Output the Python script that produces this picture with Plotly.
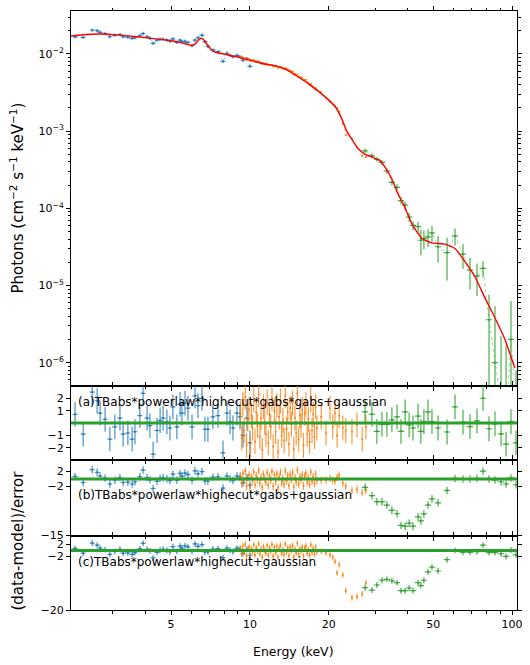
import plotly.graph_objects as go
from plotly.subplots import make_subplots

# --- model curve (red) ---
model_energy = [2.0, 2.3, 2.7, 3.2, 3.7, 4.3, 5.0, 5.5, 5.8, 6.0, 6.1, 6.2, 6.3, 6.4, 6.5,
                6.6, 6.7, 6.85, 7.0, 7.2, 7.4, 7.7, 8.0, 9.0, 10.0, 11.4, 12.3, 13.6, 15.2,
                17.25, 19.3, 21.1, 22.4, 23.4, 24.5, 25.8, 27.5, 29.2, 31.4, 32.8, 34.8,
                36.7, 38.4, 41.5, 45.3, 49.5, 55.5, 60.6, 66.2, 72.2, 78.9, 86.1, 94.0,
                100.9, 102.6]
model_flux = [0.0168, 0.0177, 0.0181, 0.0175, 0.0167, 0.0158, 0.0148, 0.0139, 0.0132,
              0.0130, 0.0132, 0.0136, 0.0145, 0.0154, 0.0159, 0.0157, 0.0149, 0.0134,
              0.0121, 0.0110, 0.0105, 0.0102, 0.0099, 0.0091, 0.0083, 0.0074, 0.0071,
              0.0064, 0.0051, 0.0038, 0.0028, 0.0021, 0.00145, 0.0010, 0.00078, 0.0006,
              0.0005, 0.000464, 0.000412, 0.000339, 0.00024, 0.000154, 0.000115, 6.3e-5,
              4.06e-5, 3.57e-5, 3.43e-5, 3.02e-5, 2.03e-5, 1.3e-5, 6.86e-6, 3.8e-6,
              2.0e-6, 1.0e-6, 8.6e-7]

# --- blue instrument ---
blue_energy = [2.15, 2.31, 2.50, 2.61, 2.68, 2.80, 2.92, 3.05, 3.19, 3.28, 3.42, 3.55,
               3.64, 3.80, 3.91, 4.05, 4.15, 4.27, 4.42, 4.54, 4.66, 4.82, 4.95, 5.08,
               5.26, 5.41, 5.50, 5.65, 5.80, 6.01, 6.17, 6.33, 6.56, 6.73, 6.91, 7.22,
               7.55, 7.89, 8.17, 8.39, 8.61, 8.92, 9.16, 9.40, 9.74, 10.0]
blue_flux = [0.01667, 0.0164, 0.0204, 0.0200, 0.0190, 0.0184, 0.0167, 0.0175, 0.0178,
             0.0167, 0.0165, 0.0159, 0.0162, 0.0172, 0.0184, 0.0167, 0.0159, 0.0137,
             0.0151, 0.0155, 0.0155, 0.0151, 0.0146, 0.0157, 0.0141, 0.0151, 0.0144,
             0.0146, 0.0141, 0.0128, 0.0151, 0.0162, 0.0175, 0.0144, 0.0125, 0.01125,
             0.0107, 0.0080, 0.0102, 0.0096, 0.0092, 0.0096, 0.0092, 0.0083, 0.0087,
             0.0069]
blue_resid = [0.7, -0.9, 2.5, 1.8, 0.8, 0.3, -1.3, -0.3, 0.4, -0.9, -0.8, -1.3, -0.7,
              0.6, 2.4, 0.4, -0.2, -2.5, -0.6, 0.2, 0.4, 0.1, -0.4, 1.3, -0.3, 1.5, 0.8,
              1.6, 1.2, -0.3, 2.2, 1.4, 2.0, -0.5, -0.5, 0.5, 0.6, -2.4, 0.8, 0.1, -0.4,
              0.8, 0.5, -1.0, 0.4, -1.6]

# --- orange instrument ---
orange_energy_dense = [9.20, 9.30, 9.40, 9.50, 9.60, 9.70, 9.81, 9.91, 10.02, 10.13, 10.23,
                       10.34, 10.45, 10.57, 10.68, 10.79, 10.91, 11.02, 11.14, 11.26, 11.38,
                       11.50, 11.63, 11.75, 11.88, 12.00, 12.13, 12.26, 12.39, 12.53, 12.66,
                       12.80, 12.93, 13.07, 13.21, 13.35, 13.50, 13.64, 13.79, 13.93, 14.08,
                       14.23, 14.39, 14.54, 14.70, 14.85, 15.01, 15.17, 15.34, 15.50, 15.67,
                       15.83, 16.00, 16.18, 16.35, 16.53, 16.70, 16.88, 17.06, 17.25, 17.43,
                       17.62, 17.81, 18.00]
orange_energy_tail = [18.7, 19.5, 20.2, 20.7, 21.1, 21.5, 21.9, 22.6, 23.2, 24.5, 25.6,
                      26.8, 27.7]
orange_flux_dense = [0.0091, 0.0088, 0.0090, 0.0087, 0.0088, 0.0084, 0.0085, 0.0085, 0.0081,
                     0.0083, 0.0082, 0.0083, 0.0079, 0.0080, 0.0079, 0.0080, 0.0076, 0.0077,
                     0.0074, 0.0076, 0.0074, 0.0073, 0.0074, 0.0072, 0.0072, 0.0072, 0.0072,
                     0.0069, 0.0070, 0.0069, 0.0070, 0.0066, 0.0067, 0.0068, 0.0065, 0.0065,
                     0.0064, 0.0065, 0.0063, 0.0063, 0.0060, 0.0061, 0.0059, 0.0059, 0.0054,
                     0.0055, 0.0053, 0.0054, 0.0050, 0.0050, 0.0049, 0.0049, 0.0046, 0.0046,
                     0.0046, 0.0043, 0.0042, 0.0040, 0.0041, 0.0038, 0.0037, 0.0035, 0.0036,
                     0.0034]
orange_flux_tail = [0.0032, 0.0027, 0.0024, 0.0022, 0.0021, 0.0020, 0.0018, 0.00125,
                    0.00090, 0.00080, 0.00062, 0.00048, 0.00046]
orange_resid_dense = [0.8, -1.2, 1.5, -0.6, 2.1, -1.8, 0.3, 1.1, -2.0, 0.6, -0.4, 1.9,
                      -1.5, 0.9, -0.2, 2.3, -1.1, 0.4, -2.2, 1.3, 0.1, -0.9, 1.7, -1.6,
                      0.7, -0.3, 2.0, -1.9, 1.0, -0.7, 1.4, -2.3, 0.5, 1.8, -1.0, 0.2,
                      -1.4, 2.2, -0.5, 0.9, -1.7, 1.2, -0.1, 1.6, -2.1, 0.4, -0.8, 2.4,
                      -1.3, 0.6, -0.2, 1.1, -1.8, 0.8, 1.5, -0.9, 0.3, -1.5, 1.9, -0.6,
                      0.7, -1.1, 1.3, -0.4]
orange_resid_a_tail = [0.5, -0.8, 1.2, -0.3, 0.8, -1.0, 0.6, -0.4, -0.6, -0.7, -0.15, -1.3, -0.3]
orange_resid_b_tail = [-0.3, -0.25, 0.2, -0.25, -0.5, 0.5, 1.0, -1.0, -1.9, -3.0, -2.75, -3.6, -3.0]
orange_resid_c_tail = [-0.3, -0.8, -1.5, -2.3, -3.7, -7.5, -4.75, -8.2, -13.5, -15.9, -15.5,
                       -14.6, -10.8]

# --- green instrument ---
green_energy = [27.5, 29.2, 30.5, 31.9, 33.3, 34.8, 36.4, 37.7, 39.1, 40.5, 41.9, 43.8,
                44.9, 46.1, 47.8, 49.5, 52.2, 56.5, 60.6, 65.0, 69.1, 73.5, 77.5, 81.7,
                86.1, 90.8, 94.9, 99.1, 103.6]
green_flux = [5.55e-4, 4.78e-4, 4.3e-4, 3.93e-4, 3.06e-4, 2.17e-4, 1.87e-4, 1.26e-4,
              1.10e-4, 7.7e-5, 6.0e-5, 5.8e-5, 3.86e-5, 4.06e-5, 4.26e-5, 4.8e-5, 3.18e-5,
              2.66e-5, 4.39e-5, 2.55e-5, 1.59e-5, 1.33e-5, 1.67e-5, 3.6e-6, 1.0e-6, 3e-7,
              2e-7, 2.0e-6, 3e-7]
green_flux_err = [4e-5, 3.5e-5, 3e-5, 3e-5, 2.5e-5, 2e-5, 1.8e-5, 1.4e-5, 1.3e-5, 1e-5,
                  8e-6, 9e-6, 1.4e-5, 1.1e-5, 1.1e-5, 1.1e-5, 1.2e-5, 1.5e-5, 1.1e-5, 9e-6,
                  7e-6, 6e-6, 4e-6, 4e-6, 4.4e-6, 1.9e-6, 1.5e-6, 4.3e-6, 5e-7]
green_resid_a = [0.9, 0.72, -0.67, -0.1, -0.1, 0.25, 0.5, -0.67, 0.9, -0.15, -0.4, 0.56,
                 -0.67, 0.12, 0.9, 0.12, -0.4, -0.72, 1.3, 0.07, -0.28, 0.17, 2.0, -0.46,
                 -0.07, -0.88, -1.7, 0.12, -1.6]
green_resid_b = [-2.2, -4.4, -6.0, -6.0, -6.9, -8.3, -9.2, -12.3, -12.5, -11.7, -12.5,
                 -10.0, -11.1, -9.25, -6.9, -5.25, -6.3, -3.0, 0.17, 0.0, 0.0, 0.2, 2.1,
                 0.0, -0.25, -0.7, -1.3, 0.3, -1.5]
green_resid_c = [-12.5, -13.3, -11.6, -10.0, -9.7, -10.2, -10.8, -13.5, -13.5, -12.6, -13.5,
                 -10.8, -11.8, -10.0, -7.2, -5.6, -6.9, -3.1, 0.0, -0.6, -0.6, -0.4, 1.8,
                 -0.7, -0.7, -1.1, -2.0, 0.2, -1.5]

panel_labels = ["(a)TBabs*powerlaw*highecut*gabs*gabs+gaussian",
                "(b)TBabs*powerlaw*highecut*gabs+gaussian",
                "(c)TBabs*powerlaw*highecut+gaussian"]

BLUE = "rgba(31,119,180,0.8)"
ORANGE = "rgba(255,127,14,0.8)"
GREEN = "rgba(44,160,44,0.85)"
FONT = "DejaVu Sans"

orange_energy = orange_energy_dense + orange_energy_tail
orange_flux = orange_flux_dense + orange_flux_tail
orange_resid = {
    2: orange_resid_dense + orange_resid_a_tail,
    3: orange_resid_dense + orange_resid_b_tail,
    4: orange_resid_dense + orange_resid_c_tail,
}
green_resid = {2: green_resid_a, 3: green_resid_b, 4: green_resid_c}

fig = make_subplots(rows=4, cols=1, shared_xaxes=True, vertical_spacing=0,
                    row_heights=[378, 75, 76, 75])


def cross(x, y, color, xpct, yerr):
    return go.Scatter(x=x, y=y, mode="markers", showlegend=False,
                      marker=dict(size=2, color=color),
                      error_x=dict(type="percent", value=xpct, color=color,
                                   thickness=1.2, width=0),
                      error_y=dict(yerr, color=color, thickness=1.2, width=0))


# --- top panel: unfolded spectrum ---
for x, y, c, lc in [(blue_energy, blue_flux, BLUE, "rgba(31,119,180,0.45)"),
                    (orange_energy, orange_flux, ORANGE, "rgba(255,127,14,0.45)"),
                    (green_energy, green_flux, GREEN, "rgba(44,160,44,0.45)")]:
    fig.add_trace(go.Scatter(x=x, y=y, mode="lines", showlegend=False,
                             line=dict(color=lc, width=1, dash="dot")), row=1, col=1)

fig.add_trace(cross(blue_energy, blue_flux, BLUE, 2.2, dict(type="percent", value=5)), row=1, col=1)
fig.add_trace(cross(orange_energy, orange_flux, ORANGE, 0.6, dict(type="percent", value=2.5)), row=1, col=1)
fig.add_trace(cross(green_energy, green_flux, GREEN, 2.8, dict(type="data", array=green_flux_err)), row=1, col=1)
fig.add_trace(go.Scatter(x=model_energy, y=model_flux, mode="lines", showlegend=False,
                         line=dict(color="red", width=1.4, shape="spline", smoothing=0.5)),
              row=1, col=1)

# --- residual panels ---
one_sigma = dict(type="constant", value=1)
for r in (2, 3, 4):
    fig.add_trace(cross(blue_energy, blue_resid, BLUE, 2.2, one_sigma), row=r, col=1)
    fig.add_trace(cross(orange_energy, orange_resid[r], ORANGE, 0.6, one_sigma), row=r, col=1)
    fig.add_trace(cross(green_energy, green_resid[r], GREEN, 2.8, one_sigma), row=r, col=1)
    fig.add_hline(y=0, line=dict(color="#2ca02c", width=3), row=r, col=1)

# --- axes ---
axis_common = dict(showline=True, linecolor="black", linewidth=1, mirror="allticks",
                   ticks="outside", ticklen=4, tickcolor="black", showgrid=False,
                   zeroline=False, tickfont=dict(family=FONT, size=11, color="black"))

x_minor = [3, 4, 6, 7, 8, 9, 30, 40, 60, 70, 80, 90]
for r in (1, 2, 3, 4):
    fig.update_xaxes(type="log", range=[0.317, 2.019],
                     tickvals=[5, 10, 20, 50, 100], ticktext=["5", "10", "20", "50", "100"],
                     minor=dict(tickvals=x_minor, ticks="outside", ticklen=2.5,
                                tickcolor="black"),
                     showticklabels=(r == 4), row=r, col=1, **axis_common)

y_major = [1e-6, 1e-5, 1e-4, 1e-3, 1e-2]
y_minor = [k * 10.0 ** p for p in range(-7, -1) for k in range(2, 10)]
fig.update_yaxes(type="log", range=[-6.30, -1.444], tickvals=y_major,
                 ticktext=["10<sup>−6</sup>", "10<sup>−5</sup>", "10<sup>−4</sup>",
                           "10<sup>−3</sup>", "10<sup>−2</sup>"],
                 minor=dict(tickvals=y_minor, ticks="outside", ticklen=2.5,
                            tickcolor="black"),
                 row=1, col=1, **axis_common)
fig.update_yaxes(range=[-3, 3], tickvals=[-2, -1, 1, 2],
                 ticktext=["−2", "−1", "1", "2"], row=2, col=1, **axis_common)
fig.update_yaxes(range=[-15, 5], tickvals=[-15, -2, 2],
                 ticktext=["−15", "−2", "2"], row=3, col=1, **axis_common)
fig.update_yaxes(range=[-20, 5], tickvals=[-20, -2, 2],
                 ticktext=["−20", "−2", "2"], row=4, col=1, **axis_common)

# --- text ---
ann = []
for label, yp in zip(panel_labels, [0.3477, 0.192, 0.0795]):
    ann.append(dict(text=label, xref="paper", yref="paper", x=0.011, y=yp,
                    xanchor="left", yanchor="middle", showarrow=False,
                    font=dict(family=FONT, size=12, color="black")))
ann.append(dict(text="Photons (cm<sup>−2</sup> s<sup>−1</sup> keV<sup>−1</sup>)",
                xref="paper", yref="paper", x=-0.121, y=0.687, textangle=-90,
                xanchor="center", yanchor="middle", showarrow=False,
                font=dict(family=FONT, size=15, color="black")))
ann.append(dict(text="(data-model)/error", xref="paper", yref="paper", x=-0.121, y=0.116,
                textangle=-90, xanchor="center", yanchor="middle", showarrow=False,
                font=dict(family=FONT, size=15, color="black")))
ann.append(dict(text="Energy (keV)", xref="paper", yref="paper", x=0.498, y=-0.0695,
                xanchor="center", yanchor="middle", showarrow=False,
                font=dict(family=FONT, size=12.5, color="black")))

fig.update_layout(width=530, height=665, margin=dict(l=71, r=13, t=6, b=55),
                  paper_bgcolor="white", plot_bgcolor="white", showlegend=False,
                  font=dict(family=FONT, color="black"), annotations=ann)

# the page's default 8px body margin would shift the figure
fig.write_html("out.html", config={"displayModeBar": False},
               post_script="document.body.style.margin='0';")
